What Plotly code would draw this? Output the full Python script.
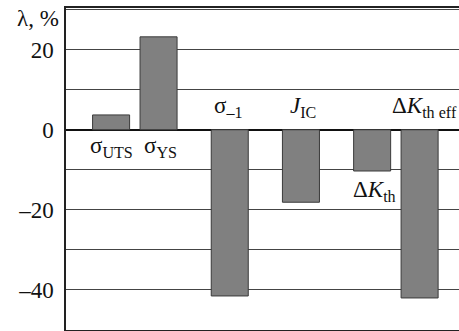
import plotly.graph_objects as go

# Data
labels = ["σ<sub>UTS</sub>", "σ<sub>YS</sub>", "σ<sub>–1</sub>", "<i>J</i><sub>IC</sub>",
          "Δ<i>K</i><sub>th</sub>", "Δ<i>K</i><sub>th eff</sub>"]
positions = [1, 2, 3.5, 5, 6.5, 7.5]
values = [3.7, 23.2, -41.5, -18.1, -10.3, -42.0]
label_x = [1.0, 2.05, 3.47, 5.05, 6.55, 7.6]
label_y = [-4.2, -4.2, 5.6, 5.6, -15.2, 5.6]
tick_vals = [20, 0, -20, -40]
tick_text = ["20", "0", "–20", "–40"]

serif = "Times New Roman, Liberation Serif, serif"

fig = go.Figure()
fig.add_trace(go.Bar(
    x=positions, y=values, width=0.78,
    marker=dict(color="#808080", line=dict(color="#3a3a3a", width=1)),
    showlegend=False, hoverinfo="skip",
))

for t, x, y in zip(labels, label_x, label_y):
    fig.add_annotation(x=x, y=y, xref="x", yref="y", text=t, showarrow=False,
                       font=dict(family=serif, size=23, color="#111"),
                       xanchor="center", yanchor="middle")

fig.add_annotation(x=0, y=0.968, xref="paper", yref="paper", text="λ, %",
                   showarrow=False, xanchor="right", yanchor="middle", xshift=-5,
                   font=dict(family=serif, size=23, color="#111"))

fig.update_layout(
    width=459, height=331,
    margin=dict(l=66, r=0, t=8, b=1),
    paper_bgcolor="white", plot_bgcolor="white",
    font=dict(family=serif, size=23, color="#111"),
    xaxis=dict(range=[0.05, 8.33], showticklabels=False, showgrid=False,
               zeroline=False, showline=True, linecolor="#222", linewidth=1.5,
               mirror=True, ticks=""),
    yaxis=dict(range=[-50, 30.4], tickvals=tick_vals, ticktext=tick_text,
               tickfont=dict(family=serif, size=23, color="#111"),
               showgrid=True, gridcolor="#444", gridwidth=1,
               minor=dict(dtick=10, tick0=0, showgrid=True, gridcolor="#444", gridwidth=1),
               zeroline=True, zerolinecolor="#111", zerolinewidth=1.5,
               showline=True, linecolor="#222", linewidth=1.5, ticks="",
               ticklabelstandoff=6),
)

fig.write_html("out.html", config={"displayModeBar": False},
               post_script="document.body.style.margin='0';")
